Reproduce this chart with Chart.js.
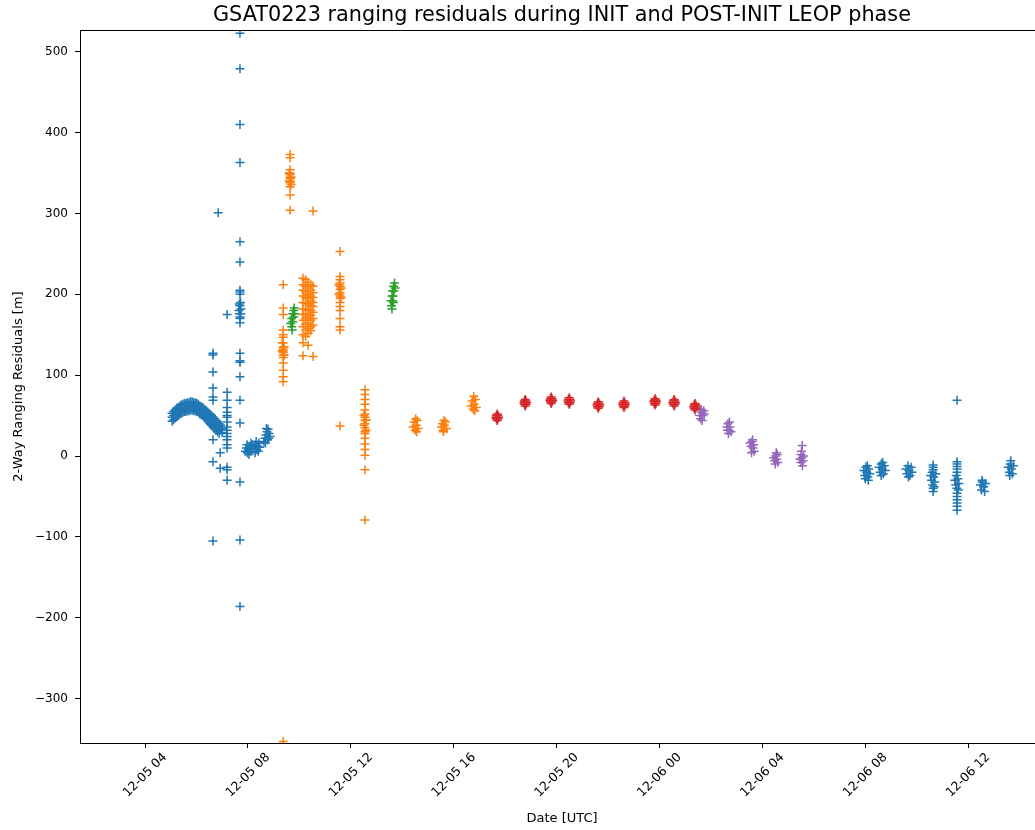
<!DOCTYPE html>
<html>
<head>
<meta charset="utf-8">
<script src="https://cdn.jsdelivr.net/npm/chart.js@4.4.1/dist/chart.umd.min.js"></script>
<style>
  html, body { margin: 0; padding: 0; background: #fff; overflow: hidden; }
  #wrap { width: 1035px; height: 830px; overflow: hidden; }
</style>
</head>
<body>
<div id="wrap"><canvas id="chart" width="1124" height="830"></canvas></div>
<script>
// time is hours since 12-05 00:00 UTC, value is residual in metres
const chartTitle = 'GSAT0223 ranging residuals during INIT and POST-INIT LEOP phase';
const xTicks = [4, 8, 12, 16, 20, 24, 28, 32, 36];
const yTicks = [-300, -200, -100, 0, 100, 200, 300, 400, 500];

const bluePts = [
  // arc
  [5.05, 43], [5.05, 48], [5.05, 53], [5.11, 45], [5.11, 50], [5.11, 55], [5.17, 47], [5.17, 52], [5.17, 57],
  [5.23, 49], [5.23, 54], [5.23, 59], [5.29, 50], [5.29, 55], [5.29, 60], [5.35, 52], [5.35, 57], [5.35, 62],
  [5.41, 53], [5.41, 58], [5.41, 63], [5.47, 54], [5.47, 59], [5.47, 64], [5.53, 55], [5.53, 60], [5.53, 65],
  [5.59, 55], [5.59, 60], [5.59, 65], [5.65, 56], [5.65, 61], [5.65, 66], [5.71, 56], [5.71, 61], [5.71, 66],
  [5.77, 57], [5.77, 62], [5.77, 67], [5.83, 57], [5.83, 62], [5.83, 67], [5.89, 56], [5.89, 61], [5.89, 66],
  [5.95, 56], [5.95, 61], [5.95, 66], [6.01, 55], [6.01, 60], [6.01, 65], [6.07, 54], [6.07, 59], [6.07, 64],
  [6.13, 52], [6.13, 57], [6.13, 62], [6.19, 51], [6.19, 56], [6.19, 61], [6.25, 50], [6.25, 55], [6.25, 60],
  [6.31, 48], [6.31, 53], [6.31, 58], [6.37, 46], [6.37, 51], [6.37, 56], [6.43, 44], [6.43, 49], [6.43, 54],
  [6.49, 42], [6.49, 47], [6.49, 52],
  [6.52, 52], [6.52, 46], [6.52, 40], [6.58, 50], [6.58, 44], [6.58, 38], [6.64, 48], [6.64, 42], [6.64, 36],
  [6.70, 46], [6.70, 40], [6.70, 34], [6.76, 44], [6.76, 38], [6.76, 32], [6.82, 42], [6.82, 36], [6.82, 30],
  [6.88, 40], [6.88, 34], [6.88, 28], [6.94, 38], [6.94, 32], [7.00, 34], [7.00, 29],
  // scattered columns
  [6.64, 127], [6.64, 125], [6.64, 104], [6.64, 84], [6.64, 73], [6.64, 69], [6.64, 20], [6.64, -7], [6.64, -105],
  [6.84, 301], [6.92, 4], [6.92, -15],
  [7.19, 175], [7.19, 79], [7.19, 69], [7.19, 60], [7.19, 54], [7.19, 50], [7.19, 48], [7.19, 42], [7.19, 36],
  [7.19, 32], [7.19, 28], [7.19, 24], [7.19, 20], [7.19, 14], [7.19, 10], [7.19, -14], [7.19, -17], [7.19, -30],
  [7.69, 523], [7.69, 479], [7.69, 410], [7.69, 363], [7.69, 265], [7.69, 240], [7.69, 205], [7.69, 203], [7.69, 200],
  [7.65, 180], [7.69, 186], [7.73, 182], [7.67, 176], [7.71, 190], [7.69, 172], [7.66, 188], [7.72, 176],
  [7.69, 170], [7.69, 165], [7.69, 127], [7.69, 118], [7.69, 116], [7.69, 98], [7.69, 69], [7.69, 41],
  [7.69, -32], [7.69, -104], [7.69, -186],
  // blobs after the gap
  [7.90, 6], [7.94, 10], [7.98, 4], [8.02, 8], [8.06, 12], [8.10, 6], [8.14, 10], [8.18, 14], [7.96, 14], [8.04, 2], [8.12, 16],
  [8.26, 10], [8.30, 14], [8.34, 8], [8.38, 12], [8.42, 16], [8.46, 11], [8.32, 18], [8.40, 6], [8.28, 4],
  [8.62, 18], [8.66, 22], [8.70, 26], [8.74, 30], [8.78, 33], [8.82, 28], [8.86, 24], [8.68, 16], [8.76, 20], [8.72, 34], [8.80, 22],
  // next day
  [31.94, -18], [31.98, -24], [32.02, -14], [32.06, -20], [32.10, -26], [32.14, -16], [32.18, -22], [32.00, -28], [32.08, -12], [32.12, -30],
  [32.54, -14], [32.58, -20], [32.62, -10], [32.66, -16], [32.70, -22], [32.74, -12], [32.78, -18], [32.62, -24], [32.68, -8],
  [33.58, -16], [33.62, -22], [33.66, -12], [33.70, -18], [33.74, -24], [33.78, -14], [33.82, -20], [33.68, -26],
  [34.54, -24], [34.58, -30], [34.62, -36], [34.66, -26], [34.70, -32], [34.74, -22], [34.60, -20], [34.68, -38],
  [34.64, -11], [34.64, -14], [34.64, -17], [34.64, -40], [34.64, -44],
  [35.48, -30], [35.52, -36], [35.56, -40], [35.60, -28], [35.64, -34], [35.54, -24], [35.62, -42],
  [35.57, -7], [35.57, -10], [35.57, -13], [35.57, -16], [35.57, -20], [35.57, -46], [35.57, -50], [35.57, -54],
  [35.57, -58], [35.57, -62], [35.57, -67], [35.57, 69],
  [36.48, -36], [36.52, -42], [36.56, -32], [36.60, -38], [36.64, -44], [36.68, -34], [36.54, -30],
  [37.56, -14], [37.60, -20], [37.64, -10], [37.68, -16], [37.72, -22], [37.76, -12], [37.66, -6], [37.62, -24]
];

const orangePts = [
  [9.37, 212], [9.37, 183], [9.37, 175], [9.37, 156], [9.37, 150], [9.37, 147], [9.37, 140], [9.37, 135],
  [9.37, 132], [9.37, 130], [9.37, 128], [9.37, 125], [9.37, 122], [9.37, 115], [9.37, 106], [9.37, 98],
  [9.37, 92], [9.37, -353], [9.33, 130], [9.41, 135], [9.33, 140], [9.41, 125],
  [9.64, 373], [9.64, 369], [9.64, 354], [9.64, 350], [9.64, 348], [9.64, 345], [9.64, 343], [9.64, 340],
  [9.64, 338], [9.64, 333], [9.64, 323], [9.64, 304], [9.60, 340], [9.68, 345], [9.60, 350], [9.68, 336],
  [10.14, 220], [10.14, 212], [10.14, 205], [10.14, 198], [10.14, 190], [10.14, 182], [10.14, 175],
  [10.14, 168], [10.14, 160], [10.14, 150], [10.14, 140], [10.14, 124],
  [10.24, 218], [10.24, 210], [10.24, 203], [10.24, 196], [10.24, 189], [10.24, 182], [10.24, 176],
  [10.24, 170], [10.24, 163], [10.24, 156], [10.24, 148],
  [10.34, 215], [10.34, 208], [10.34, 200], [10.34, 195], [10.34, 188], [10.34, 180], [10.34, 172],
  [10.34, 165], [10.34, 158], [10.34, 152], [10.34, 137],
  [10.44, 212], [10.44, 205], [10.44, 198], [10.44, 192], [10.44, 186], [10.44, 180], [10.44, 174],
  [10.44, 168], [10.44, 160], [10.44, 155],
  [10.53, 303], [10.53, 210], [10.53, 202], [10.53, 196], [10.53, 190], [10.53, 185], [10.53, 178],
  [10.53, 170], [10.53, 162], [10.53, 123],
  [11.58, 253], [11.58, 222], [11.58, 218], [11.58, 214], [11.58, 210], [11.58, 206], [11.58, 202],
  [11.58, 198], [11.58, 195], [11.58, 190], [11.58, 185], [11.58, 180], [11.58, 170], [11.58, 160],
  [11.58, 156], [11.58, 37], [11.54, 212], [11.62, 208], [11.54, 200], [11.62, 196],
  [12.55, 82], [12.55, 76], [12.55, 70], [12.55, 64], [12.55, 57], [12.55, 52], [12.55, 48], [12.55, 44],
  [12.55, 40], [12.55, 35], [12.55, 30], [12.55, 28], [12.55, 22], [12.55, 15], [12.55, 8], [12.55, 1],
  [12.55, -17], [12.55, -79], [12.51, 50], [12.59, 45], [12.51, 38], [12.59, 32],
  [14.42, 36], [14.46, 42], [14.50, 32], [14.54, 38], [14.58, 44], [14.62, 34], [14.52, 46], [14.56, 30],
  [15.52, 36], [15.56, 40], [15.60, 32], [15.64, 38], [15.68, 42], [15.72, 34], [15.62, 44], [15.60, 30],
  [16.68, 62], [16.72, 68], [16.76, 58], [16.80, 64], [16.84, 70], [16.88, 60], [16.78, 74], [16.82, 56]
];

const greenPts = [
  [9.66, 164], [9.70, 160], [9.70, 170], [9.74, 166], [9.74, 176], [9.78, 172], [9.78, 180], [9.82, 176],
  [9.72, 156], [9.80, 183],
  [13.56, 192], [13.58, 186], [13.60, 198], [13.62, 192], [13.62, 204], [13.64, 198], [13.66, 210],
  [13.68, 204], [13.70, 214], [13.66, 190], [13.60, 182], [13.72, 208]
];

const redPts = [
  [17.64, 48], [17.74, 48], [17.69, 52], [17.69, 44], [17.66, 50], [17.72, 46], [17.66, 46], [17.72, 50],
  [18.73, 66], [18.83, 66], [18.78, 70], [18.78, 62], [18.75, 68], [18.81, 64], [18.75, 64], [18.81, 68],
  [19.74, 69], [19.84, 69], [19.79, 73], [19.79, 65], [19.76, 71], [19.82, 67], [19.76, 67], [19.82, 71],
  [20.44, 68], [20.54, 68], [20.49, 72], [20.49, 64], [20.46, 70], [20.52, 66], [20.46, 66], [20.52, 70],
  [21.57, 63], [21.67, 63], [21.62, 67], [21.62, 59], [21.59, 65], [21.65, 61], [21.59, 61], [21.65, 65],
  [22.57, 64], [22.67, 64], [22.62, 68], [22.62, 60], [22.59, 66], [22.65, 62], [22.59, 62], [22.65, 66],
  [23.78, 67], [23.88, 67], [23.83, 71], [23.83, 63], [23.80, 69], [23.86, 65], [23.80, 65], [23.86, 69],
  [24.52, 66], [24.62, 66], [24.57, 70], [24.57, 62], [24.54, 68], [24.60, 64], [24.54, 64], [24.60, 68],
  [25.33, 61], [25.43, 61], [25.38, 65], [25.38, 57], [25.35, 63], [25.41, 59], [25.35, 59], [25.41, 63]
];

const purplePts = [
  [25.56, 50], [25.60, 46], [25.64, 54], [25.68, 50], [25.72, 56], [25.62, 58], [25.66, 44], [25.74, 52],
  [26.62, 36], [26.66, 40], [26.70, 32], [26.74, 36], [26.78, 30], [26.68, 28], [26.72, 42], [26.64, 32],
  [27.52, 16], [27.56, 12], [27.60, 18], [27.64, 10], [27.68, 6], [27.58, 4], [27.62, 20], [27.66, 14],
  [28.44, -2], [28.48, -6], [28.52, 0], [28.56, -4], [28.60, -8], [28.50, -10], [28.54, 4], [28.58, 2],
  [29.46, -4], [29.50, -8], [29.54, -2], [29.58, -6], [29.50, 2], [29.56, -12], [29.52, 6], [29.60, 0], [29.55, 13]
];

function series(pts, color) {
  return {
    data: pts.map(p => ({ x: p[0], y: p[1] })),
    pointStyle: 'cross',
    pointRadius: 4.5,
    pointHoverRadius: 4.5,
    borderWidth: 1.5,
    borderColor: color,
    backgroundColor: color
  };
}

function pad(n) { return n < 10 ? '0' + n : '' + n; }

// matplotlib style frame around the axes, title centred over the axes
const frame = {
  id: 'frame',
  afterDatasetsDraw(chart) {
    const a = chart.chartArea, ctx = chart.ctx;
    ctx.save();
    ctx.strokeStyle = '#000';
    ctx.lineWidth = 1;
    ctx.strokeRect(Math.round(a.left) + 0.5, Math.round(a.top) + 0.5,
      Math.round(a.right - a.left), Math.round(a.bottom - a.top));
    ctx.fillStyle = '#000';
    ctx.font = '20.8px "DejaVu Sans"';
    ctx.textAlign = 'center';
    ctx.textBaseline = 'middle';
    ctx.fillText(chartTitle, (a.left + a.right) / 2, 16);
    ctx.restore();
  }
};

Chart.defaults.font.family = 'DejaVu Sans';
Chart.defaults.color = '#000';

new Chart(document.getElementById('chart'), {
  type: 'scatter',
  data: {
    datasets: [
      series(bluePts, '#1f77b4'),
      series(orangePts, '#ff7f0e'),
      series(greenPts, '#2ca02c'),
      series(redPts, '#d62728'),
      series(purplePts, '#9467bd')
    ]
  },
  options: {
    responsive: false,
    animation: false,
    layout: { padding: { left: 0, right: 80, top: 30, bottom: 0 } },
    plugins: {
      legend: { display: false },
      tooltip: { enabled: false }
    },
    scales: {
      x: {
        type: 'linear',
        min: 1.47,
        max: 38.95,
        afterBuildTicks: s => { s.ticks = xTicks.map(v => ({ value: v })); },
        afterFit: s => { s.height = 87; },
        ticks: {
          autoSkip: false,
          minRotation: 45,
          maxRotation: 45,
          labelOffset: 20,
          padding: 2,
          font: { size: 12.5 },
          callback: v => '12-' + pad(5 + Math.floor(v / 24)) + ' ' + pad(v % 24)
        },
        grid: { drawOnChartArea: false, drawTicks: true, tickLength: 5, tickColor: '#000' },
        border: { display: false },
        title: { display: true, text: 'Date [UTC]', font: { size: 13 }, padding: { top: 4, bottom: 4 } }
      },
      y: {
        min: -355,
        max: 527,
        afterBuildTicks: s => { s.ticks = yTicks.map(v => ({ value: v })); },
        afterFit: s => { s.width = 80; },
        ticks: {
          padding: 7,
          font: { size: 12 },
          callback: v => String(v).replace('-', '\u2212')
        },
        grid: { drawOnChartArea: false, drawTicks: true, tickLength: 5, tickColor: '#000' },
        border: { display: false },
        title: { display: true, text: '2-Way Ranging Residuals [m]', font: { size: 13 }, padding: { top: 11, bottom: 4 } }
      }
    }
  },
  plugins: [frame]
});
</script>
</body>
</html>
